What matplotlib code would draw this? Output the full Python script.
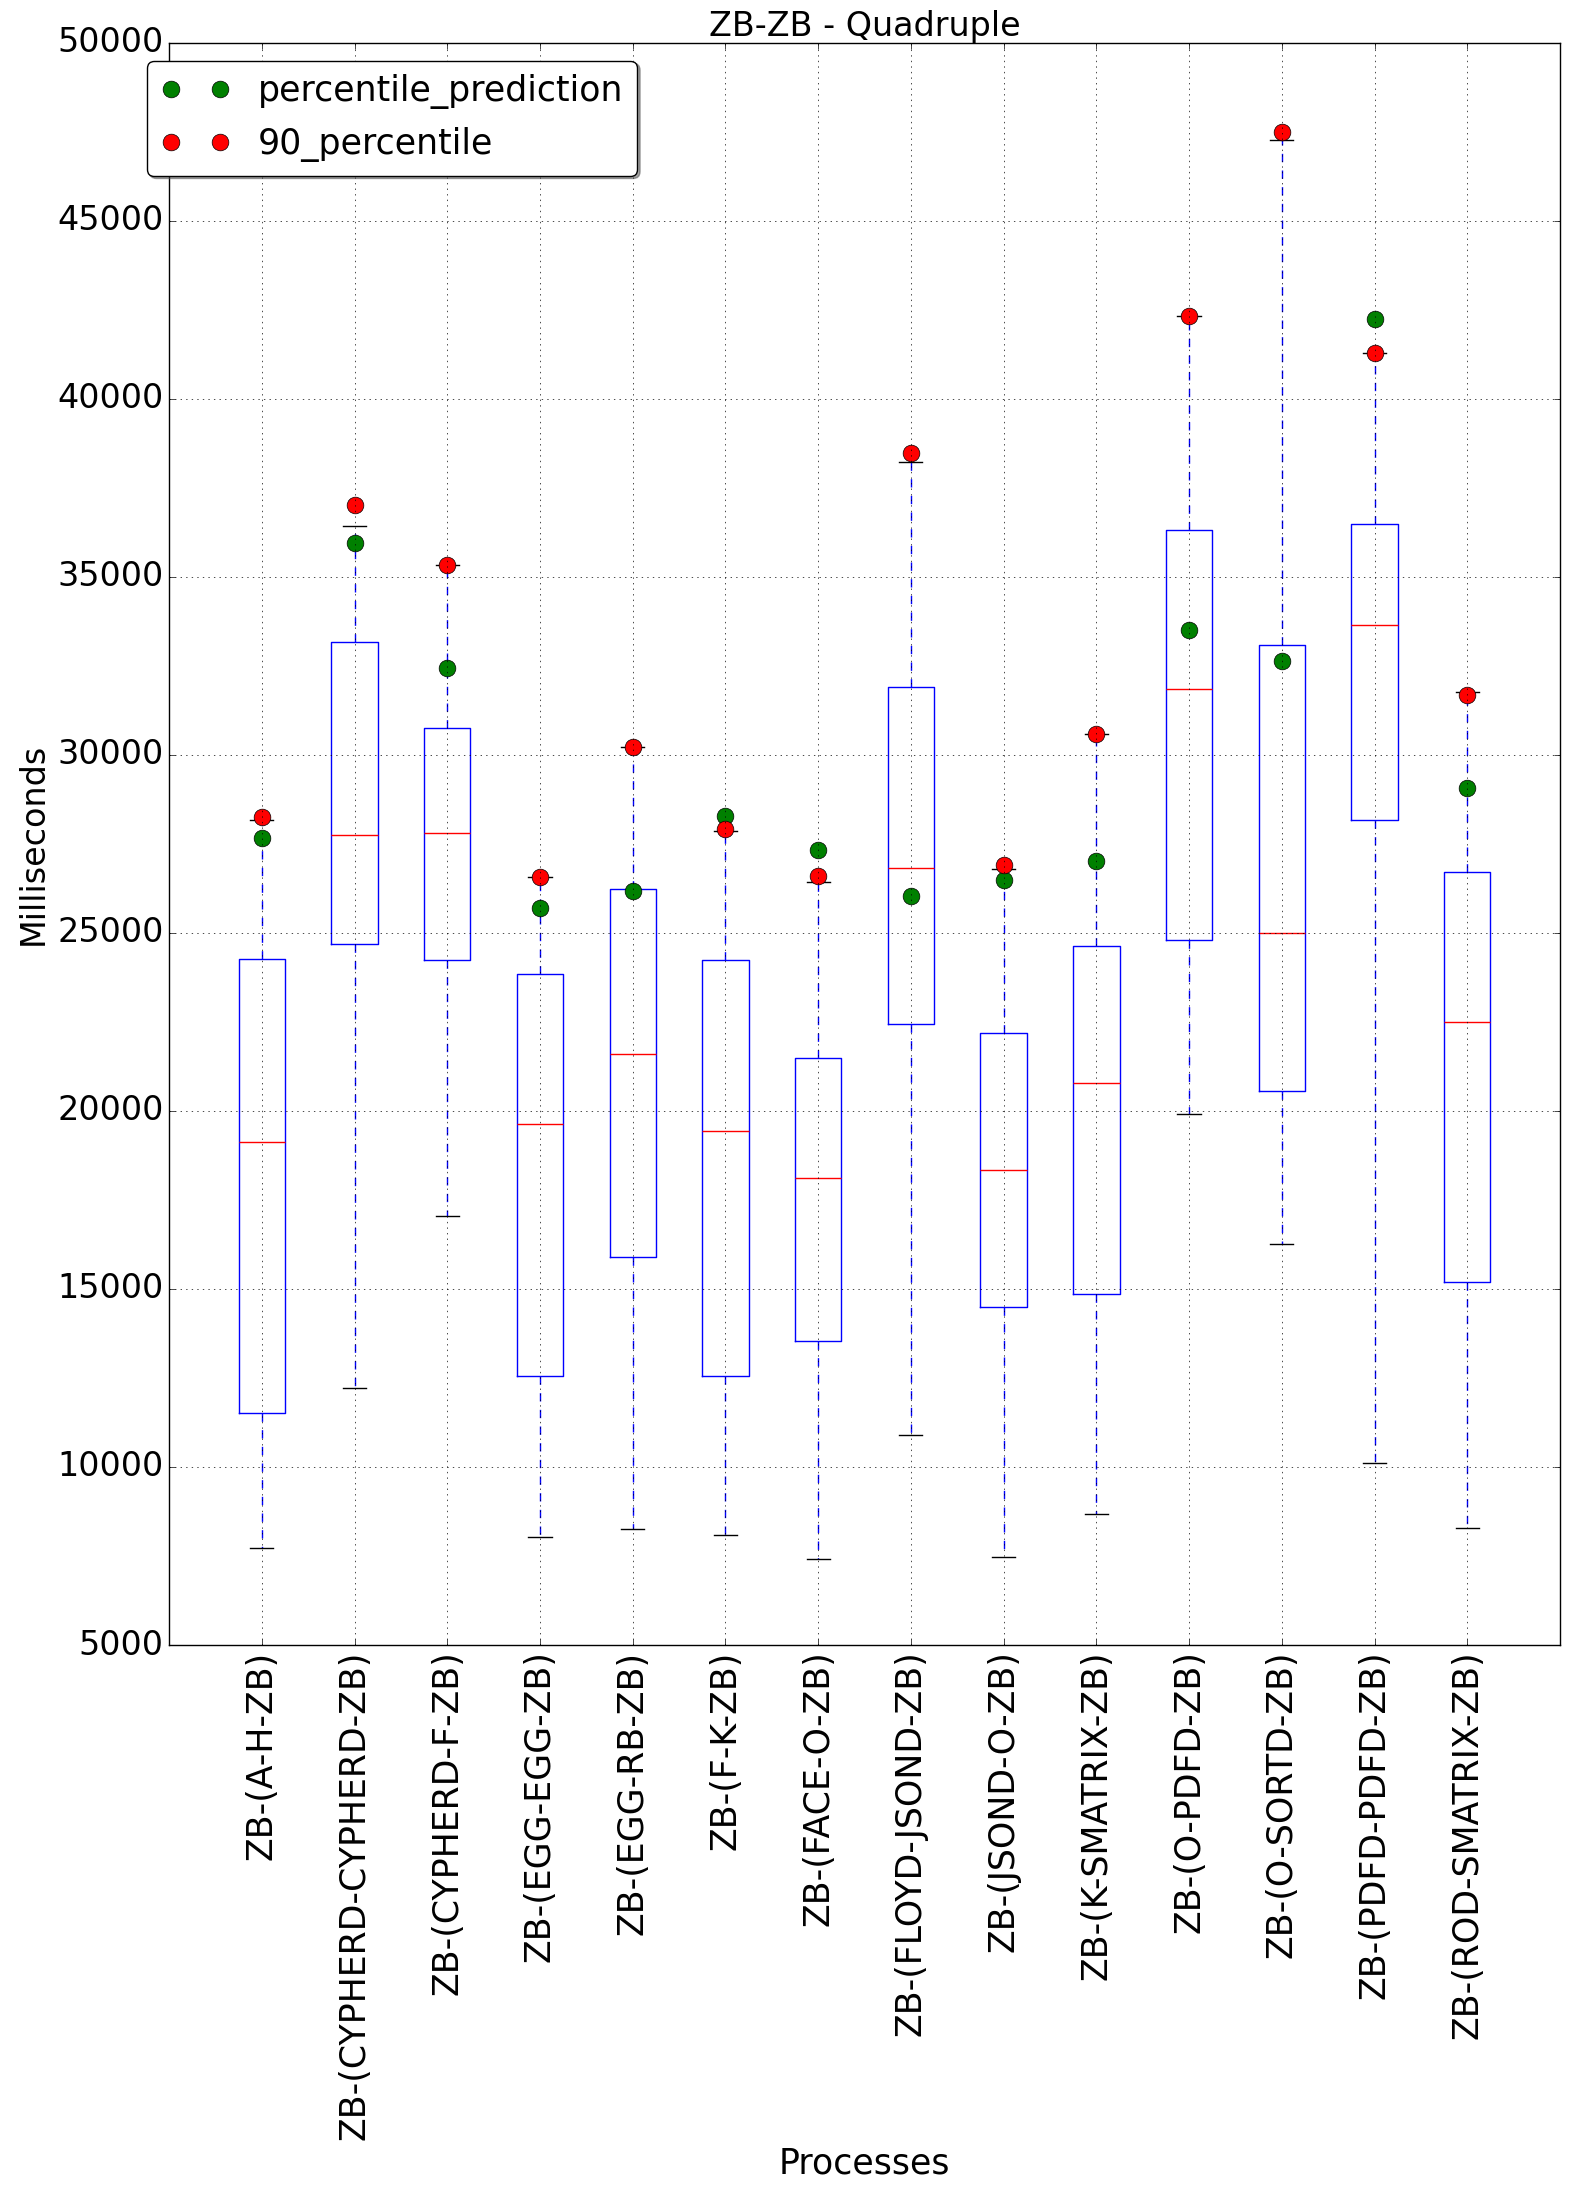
import matplotlib
matplotlib.use('Agg')
import matplotlib.pyplot as plt

plt.style.use('classic')

# processes on the x axis
processes = ['ZB-(A-H-ZB)', 'ZB-(CYPHERD-CYPHERD-ZB)', 'ZB-(CYPHERD-F-ZB)',
             'ZB-(EGG-EGG-ZB)', 'ZB-(EGG-RB-ZB)', 'ZB-(F-K-ZB)',
             'ZB-(FACE-O-ZB)', 'ZB-(FLOYD-JSOND-ZB)', 'ZB-(JSOND-O-ZB)',
             'ZB-(K-SMATRIX-ZB)', 'ZB-(O-PDFD-ZB)', 'ZB-(O-SORTD-ZB)',
             'ZB-(PDFD-PDFD-ZB)', 'ZB-(ROD-SMATRIX-ZB)']

# box statistics (ms)
whisker_low = [7720, 12210, 17050, 8030, 8250, 8080, 7420, 10890, 7470, 8690,
               19920, 16270, 10100, 8300]
q1 = [11510, 24690, 24240, 12550, 15910, 12570, 13530, 22430, 14500, 14850,
      24790, 20550, 28170, 15210]
medians = [19130, 27740, 27800, 19640, 21610, 19450, 18110, 26830, 18350,
           20780, 31860, 24990, 33660, 22510]
q3 = [24260, 33170, 30750, 23850, 26230, 24240, 21490, 31900, 22200, 24630,
      36310, 33080, 36480, 26710]
whisker_high = [28170, 36430, 35330, 26570, 30220, 27860, 26440, 38220, 26790,
                30600, 42320, 47280, 41300, 31780]

percentile_prediction = [27670, 35950, 32440, 25700, 26170, 28290, 27340,
                         26050, 26480, 27030, 33510, 32640, 42240, 29070]
percentile_90 = [28260, 37020, 35330, 26570, 30220, 27910, 26600, 38490,
                 26910, 30600, 42330, 47490, 41300, 31680]

positions = list(range(1, len(processes) + 1))

stats = []
for i, name in enumerate(processes):
    stats.append({'label': name, 'whislo': whisker_low[i], 'q1': q1[i],
                  'med': medians[i], 'q3': q3[i], 'whishi': whisker_high[i],
                  'fliers': []})

fig = plt.figure(figsize=(15.71, 21.91), dpi=100, facecolor='white')
ax = fig.add_axes([0.1076, 0.2492, 0.8854, 0.7312])

ax.bxp(stats, positions=positions, widths=0.5)

ax.plot(positions, percentile_prediction, 'o', color='green',
        markeredgecolor='black', markersize=12, label='percentile_prediction')
ax.plot(positions, percentile_90, 'o', color='red',
        markeredgecolor='black', markersize=12, label='90_percentile')

ax.set_xlim(0, 15)
ax.set_ylim(5000, 50000)
ax.set_yticks(range(5000, 50001, 5000))
ax.set_xticks(positions)
ax.set_xticklabels(processes, rotation=90, fontsize=25)
ax.tick_params(axis='y', labelsize=24)
ax.grid(True)

ax.set_title('ZB-ZB - Quadruple', fontsize=24)
ax.set_xlabel('Processes', fontsize=25)
ax.set_ylabel('Milliseconds', fontsize=24)

ax.legend(loc='upper left', bbox_to_anchor=(-0.016, 0.989), borderaxespad=0,
          numpoints=2, fancybox=True, shadow=True, fontsize=25)

fig.savefig('out.png', dpi=100, facecolor='white')
